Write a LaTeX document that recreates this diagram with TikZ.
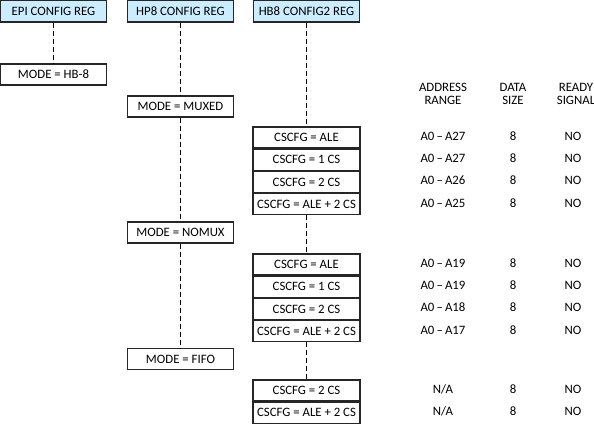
\documentclass[tikz,border=0pt]{standalone}
\usepackage{fontspec}
\setmainfont{Carlito}
\usetikzlibrary{positioning}

\definecolor{regblue}{RGB}{204,236,255}
\tikzset{
  regbox/.style={draw=black!85, line width=1.2pt, fill=regblue, minimum width=106pt, minimum height=22pt, inner sep=1pt},
  modebox/.style={draw=black!85, line width=1.2pt, fill=white, minimum width=106pt, minimum height=21pt, inner sep=1pt},
  cfgbox/.style={draw=black!85, line width=1.2pt, fill=white, minimum width=107pt, minimum height=21pt, inner sep=1pt},
  coltext/.style={align=center, inner sep=0pt},
  cell/.style={inner sep=0pt, text height=9pt, text depth=3pt},
  link/.style={line width=1.1pt, dash pattern=on 5pt off 3pt},
}

\begin{document}
\begin{tikzpicture}[x=1pt, y=-1pt, font=\fontsize{12.8}{13}\selectfont]
\useasboundingbox (0,0) rectangle (594,423);

% register headers
\node[regbox] (epi) at (53.5,11) {EPI CONFIG REG};
\node[regbox] (hp8) at (180.5,11) {HP8 CONFIG REG};
\node[regbox] (hb8) at (306.5,11) {HB8 CONFIG2 REG};

% modes
\node[modebox] (modehb) at (53.5,74.5) {MODE = HB-8};
\node[modebox] (muxed) at (180.5,106.5) {MODE = MUXED};
\node[modebox] (nomux) at (180.5,232.5) {MODE = NOMUX};
\node[modebox] (fifo) at (180.5,359) {MODE = FIFO};

% chip select configs
\node[cfgbox] (g1a) at (306.5,137.5) {CSCFG = ALE};
\node[cfgbox, below=0pt of g1a] (g1b) {CSCFG = 1 CS};
\node[cfgbox, below=0pt of g1b] (g1c) {CSCFG = 2 CS};
\node[cfgbox, below=0pt of g1c] (g1d) {CSCFG = ALE + 2 CS};

\node[cfgbox] (g2a) at (306.5,264.5) {CSCFG = ALE};
\node[cfgbox, below=0pt of g2a] (g2b) {CSCFG = 1 CS};
\node[cfgbox, below=0pt of g2b] (g2c) {CSCFG = 2 CS};
\node[cfgbox, below=0pt of g2c] (g2d) {CSCFG = ALE + 2 CS};

\node[cfgbox] (g3a) at (306.5,390.5) {CSCFG = 2 CS};
\node[cfgbox, below=0pt of g3a] (g3b) {CSCFG = ALE + 2 CS};

% column headings
\node[coltext] (adrhead) at (443,94) {ADDRESS\\RANGE};
\node[coltext] (sizehead) at (513,94) {DATA\\SIZE};
\node[coltext] (rdyhead) at (576,94) {READY\\SIGNAL};

% table values
\foreach \r/\adr in {g1a/A0\,--\,A27, g1b/A0\,--\,A27, g1c/A0\,--\,A26, g1d/A0\,--\,A25,
                     g2a/A0\,--\,A19, g2b/A0\,--\,A19, g2c/A0\,--\,A18, g2d/A0\,--\,A17,
                     g3a/{N/A}, g3b/{N/A}}{
  \node[cell] (adr-\r) at (adrhead |- \r) {\adr};
  \node[cell] (size-\r) at (sizehead |- \r) {8};
  \node[cell] (rdy-\r) at (573,0 |- \r) {NO};
}

% dashed links
\draw[link] (epi) -- (modehb);
\draw[link] (hp8) -- (muxed);
\draw[link] (muxed) -- (nomux);
\draw[link] (nomux) -- (fifo);
\draw[link] (hb8) -- (g1a);
\draw[link] (g1d) -- (g2a);
\draw[link] (g2d) -- (g3a);
\end{tikzpicture}
\end{document}
